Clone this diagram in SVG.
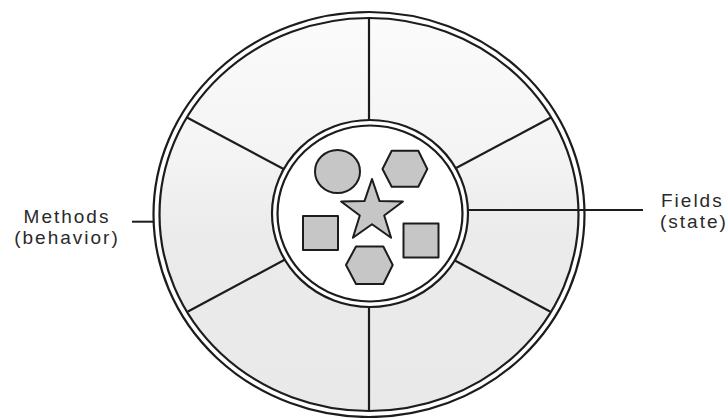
<svg xmlns="http://www.w3.org/2000/svg" width="728" height="418" viewBox="0 0 728 418">
  <style>
    .ln { stroke: #1c1c1c; fill: none; }
    .ring { stroke: #1c1c1c; stroke-width: 2.2; }
    .spoke { stroke: #1c1c1c; stroke-width: 2.2; fill: none; }
    .shape { fill: #c6c6c6; stroke: #1c1c1c; stroke-width: 2; stroke-linejoin: round; }
    .lbl { font-family: "Liberation Sans", Arial, sans-serif; font-size: 19px; letter-spacing: 2px; fill: #2a2a2a; }
  </style>
  <defs>
    <linearGradient id="ringFill" x1="0" y1="0" x2="0" y2="1">
      <stop offset="0" stop-color="#fbfbfb"/>
      <stop offset="0.35" stop-color="#f4f4f4"/>
      <stop offset="0.55" stop-color="#ebebeb"/>
      <stop offset="1" stop-color="#e9e9e9"/>
    </linearGradient>
  </defs>
  <rect width="728" height="418" fill="#ffffff"/>

  <g id="methods">
    <ellipse class="ring" cx="369" cy="214.5" rx="215.5" ry="202.5" fill="#ffffff"/>
    <ellipse class="ring" cx="369" cy="214.5" rx="209.5" ry="196.5" fill="url(#ringFill)"/>
    <g class="spokes">
      <line class="spoke" x1="369" y1="214.5" x2="369" y2="18"/>
      <line class="spoke" x1="369" y1="214.5" x2="369" y2="411"/>
      <line class="spoke" x1="369" y1="214.5" x2="187" y2="117.5"/>
      <line class="spoke" x1="369" y1="214.5" x2="551" y2="117.5"/>
      <line class="spoke" x1="369" y1="214.5" x2="188" y2="311.5"/>
      <line class="spoke" x1="369" y1="214.5" x2="550" y2="311.5"/>
    </g>
  </g>

  <g id="fields">
    <ellipse class="ring" cx="370" cy="213.5" rx="98" ry="93.5" fill="#ffffff"/>
    <ellipse class="ring" cx="370" cy="213.5" rx="92.5" ry="88" fill="#ffffff"/>
    <g id="field-circle"><ellipse class="shape" cx="337.5" cy="171.5" rx="22.5" ry="21.5"/></g>
    <g id="field-hex-top"><polygon class="shape" points="382.5,169 391.7,150.7 418.3,150.7 427.3,169 418.3,186.7 391.7,186.7"/></g>
    <g id="field-star"><polygon class="shape" points="372,179 379.5,201.1 402.9,201.5 384.2,215.5 391.1,237.8 372,224.3 352.9,237.8 359.8,215.5 341.1,201.5 364.5,201.1"/></g>
    <g id="field-square-left"><rect class="shape" x="303" y="216" width="35" height="34"/></g>
    <g id="field-square-right"><rect class="shape" x="403.5" y="223.5" width="35" height="34"/></g>
    <g id="field-hex-bottom"><polygon class="shape" points="346,265 356,246.5 383.3,246.5 392.7,265 383.3,284 356,284"/></g>
  </g>

  <g id="connectors">
    <line class="ln" x1="132" y1="221.7" x2="154" y2="221.7" stroke-width="2"/>
    <line class="ln" x1="468" y1="210" x2="643" y2="210" stroke-width="1.8"/>
  </g>

  <g id="label-methods">
    <text class="lbl" x="67" y="223" text-anchor="middle">Methods</text>
    <text class="lbl" x="67" y="244" text-anchor="middle">(behavior)</text>
  </g>
  <g id="label-fields">
    <text class="lbl" x="661" y="207">Fields</text>
    <text class="lbl" x="660" y="228">(state)</text>
  </g>
</svg>
